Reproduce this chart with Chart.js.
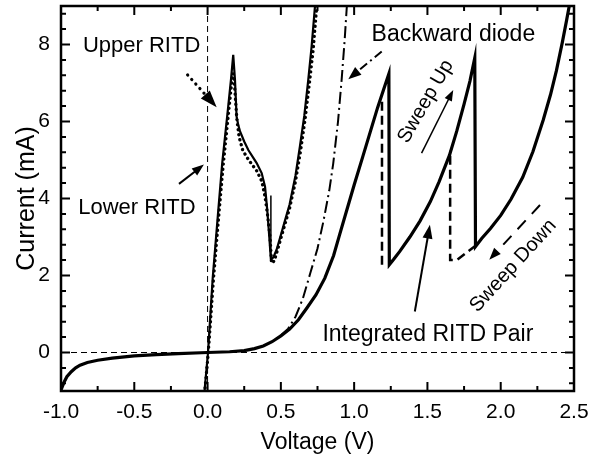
<!DOCTYPE html>
<html><head><meta charset="utf-8">
<script src="https://cdn.jsdelivr.net/npm/chart.js@4/dist/chart.umd.min.js"></script>
<style>html,body{margin:0;padding:0;background:#fff}</style>
</head><body>
<canvas id="c" width="602" height="459"></canvas>
<script>
// ---- axis ticks ----
const xTickValues = [-1.0, -0.5, 0.0, 0.5, 1.0, 1.5, 2.0, 2.5];
const xTickLabels = ['-1.0', '-0.5', '0.0', '0.5', '1.0', '1.5', '2.0', '2.5'];
const yTickValues = [0, 2, 4, 6, 8];
const yTickLabels = ['0', '2', '4', '6', '8'];

// ---- Integrated RITD pair (sweep up, thick solid) ----
const integratedV = [-1.00, -0.98, -0.96, -0.93, -0.90, -0.87, -0.82, -0.75, -0.65, -0.50, -0.35, -0.20, 0.00, 0.15, 0.25, 0.32, 0.38, 0.44, 0.50, 0.56, 0.62, 0.68, 0.74, 0.80, 0.86, 0.90, 0.95, 1.00, 1.06, 1.11, 1.16, 1.20, 1.237, 1.240, 1.27, 1.31, 1.38, 1.45, 1.52, 1.58, 1.65, 1.70, 1.75, 1.79, 1.823, 1.828, 1.87, 1.93, 2.00, 2.07, 2.15, 2.22, 2.29, 2.34, 2.38, 2.42, 2.45, 2.47];
const integratedI = [-0.97, -0.78, -0.63, -0.50, -0.40, -0.33, -0.26, -0.20, -0.145, -0.09, -0.055, -0.03, 0.00, 0.02, 0.05, 0.10, 0.17, 0.28, 0.43, 0.61, 0.85, 1.17, 1.50, 1.93, 2.52, 3.05, 3.70, 4.35, 5.10, 5.73, 6.36, 6.82, 7.24, 2.28, 2.42, 2.62, 3.00, 3.42, 3.92, 4.44, 5.12, 5.75, 6.45, 7.05, 7.65, 2.75, 2.96, 3.22, 3.56, 3.98, 4.55, 5.22, 6.04, 6.70, 7.32, 8.05, 8.64, 9.05];

// ---- Integrated RITD pair, sweep down branches (dashed) ----
const sweepDownAV = [1.19, 1.19];
const sweepDownAI = [2.28, 6.60];
const sweepDownBV = [1.83, 1.70, 1.655, 1.655];
const sweepDownBI = [2.78, 2.40, 2.40, 5.25];

// ---- Lower RITD (solid) ----
const lowerV = [-0.022, 0.003, 0.035, 0.070, 0.100, 0.141, 0.160, 0.175, 0.187, 0.198, 0.210, 0.221, 0.250, 0.278, 0.310, 0.335, 0.369, 0.392, 0.407, 0.421, 0.432, 0.450, 0.471, 0.50, 0.53, 0.56, 0.60, 0.63, 0.66, 0.687, 0.71, 0.733, 0.74];
const lowerI = [-1.05, 0.00, 1.93, 3.55, 4.92, 6.39, 7.10, 7.73, 7.08, 6.13, 5.90, 5.75, 5.48, 5.26, 5.07, 4.92, 4.66, 4.31, 3.71, 3.01, 2.41, 2.48, 2.67, 3.05, 3.45, 3.85, 4.60, 5.35, 6.15, 7.08, 7.95, 9.00, 9.30];
const lowerJumpV = [0.432, 0.432];
const lowerJumpI = [4.08, 2.41];

// ---- Upper RITD (dotted) ----
const upperV = [-0.020, 0.005, 0.040, 0.075, 0.105, 0.145, 0.163, 0.172, 0.182, 0.190, 0.200, 0.215, 0.240, 0.280, 0.335, 0.370, 0.392, 0.410, 0.426, 0.437, 0.455, 0.480, 0.510, 0.560, 0.600, 0.635, 0.665, 0.695, 0.720, 0.745, 0.750];
const upperI = [-1.05, 0.00, 1.90, 3.50, 4.80, 6.30, 6.95, 7.25, 7.05, 6.60, 6.05, 5.60, 5.25, 5.00, 4.72, 4.45, 4.05, 3.55, 3.00, 2.32, 2.38, 2.70, 3.10, 3.75, 4.45, 5.25, 6.05, 7.00, 7.85, 9.00, 9.30];

// ---- Backward diode (dash-dot) ----
const backwardV = [0.50, 0.55, 0.60, 0.65, 0.70, 0.75, 0.79, 0.83, 0.857, 0.89, 0.915, 0.935, 0.952];
const backwardI = [0.45, 0.62, 0.93, 1.40, 2.05, 2.70, 3.40, 4.20, 4.90, 6.00, 7.10, 8.10, 9.10];

// ---- annotation labels (data coordinates) ----
const labelTexts = ['Upper RITD', 'Lower RITD', 'Backward diode', 'Sweep Up', 'Sweep Down', 'Integrated RITD Pair'];
const labelV = [-0.45, -0.482, 1.677, 1.488, 2.085, 1.503];
const labelI = [7.97, 3.75, 8.25, 6.52, 2.25, 0.46];
const labelAngle = [0, 0, 0, -60, -47.5, 0];
const labelSize = [22, 22, 23, 20, 20, 23];

// ---- annotation arrows (data coordinates, from -> to) ----
const arrowFromV = [-0.136, -0.195, 1.188, 1.460, 2.268, 1.414];
const arrowFromI = [7.21, 4.38, 7.82, 5.18, 3.83, 1.065];
const arrowToV = [0.062, -0.025, 0.960, 1.676, 1.922, 1.517];
const arrowToI = [6.37, 4.88, 7.10, 6.82, 2.41, 3.32];

const FONT = '"Liberation Sans", Arial, Helvetica, sans-serif';

function pts(xs, ys) { return xs.map((x, i) => ({ x: x, y: ys[i] })); }

const ds = (label, xs, ys, w, dash, cap) => ({
  label: label, data: pts(xs, ys), showLine: true, borderColor: '#000', backgroundColor: '#000',
  borderWidth: w, borderDash: dash || [], borderCapStyle: cap || 'butt', borderJoinStyle: 'miter',
  pointRadius: 0, tension: 0, fill: false, clip: 0
});

const arrowStyles = [
  { w: 3.2, dash: [0.1, 6], cap: 'round', head: 17, hw: 6 },
  { w: 2, dash: [], cap: 'butt', head: 12, hw: 4.5 },
  { w: 2, dash: [9, 4, 2, 4], cap: 'butt', head: 13, hw: 5 },
  { w: 1.5, dash: [], cap: 'butt', head: 11, hw: 4 },
  { w: 2, dash: [12, 9], cap: 'butt', head: 12, hw: 4.5 },
  { w: 2, dash: [], cap: 'butt', head: 14, hw: 5 }
];

const decor = {
  id: 'decor',
  beforeDatasetsDraw(chart) {
    const { ctx, chartArea: a, scales: { x, y } } = chart;
    ctx.save();
    ctx.strokeStyle = '#000';
    ctx.lineWidth = 1;
    ctx.setLineDash([6, 4]);
    const y0 = y.getPixelForValue(0), x0 = x.getPixelForValue(0);
    ctx.beginPath(); ctx.moveTo(a.left, y0); ctx.lineTo(a.right, y0); ctx.stroke();
    ctx.beginPath(); ctx.moveTo(x0, a.top); ctx.lineTo(x0, a.bottom); ctx.stroke();
    ctx.restore();
  },
  afterDatasetsDraw(chart) {
    const { ctx, chartArea: a, scales: { x, y } } = chart;
    ctx.save();
    // arrows
    for (let i = 0; i < arrowFromV.length; i++) {
      const st = arrowStyles[i];
      const x1 = x.getPixelForValue(arrowFromV[i]), y1 = y.getPixelForValue(arrowFromI[i]);
      const x2 = x.getPixelForValue(arrowToV[i]), y2 = y.getPixelForValue(arrowToI[i]);
      const ang = Math.atan2(y2 - y1, x2 - x1);
      const bx = x2 - st.head * Math.cos(ang), by = y2 - st.head * Math.sin(ang);
      ctx.strokeStyle = '#000'; ctx.fillStyle = '#000';
      ctx.lineWidth = st.w; ctx.lineCap = st.cap; ctx.setLineDash(st.dash);
      ctx.beginPath(); ctx.moveTo(x1, y1); ctx.lineTo(bx + Math.cos(ang) * 2, by + Math.sin(ang) * 2); ctx.stroke();
      ctx.setLineDash([]);
      ctx.beginPath();
      ctx.moveTo(x2, y2);
      ctx.lineTo(bx + st.hw * Math.sin(ang), by - st.hw * Math.cos(ang));
      ctx.lineTo(bx - st.hw * Math.sin(ang), by + st.hw * Math.cos(ang));
      ctx.closePath(); ctx.fill();
    }
    // labels
    ctx.fillStyle = '#000';
    ctx.textAlign = 'center'; ctx.textBaseline = 'middle';
    for (let i = 0; i < labelTexts.length; i++) {
      const px = x.getPixelForValue(labelV[i]), py = y.getPixelForValue(labelI[i]);
      ctx.save();
      ctx.translate(px, py);
      ctx.rotate(labelAngle[i] * Math.PI / 180);
      ctx.font = labelSize[i] + 'px ' + FONT;
      ctx.fillText(labelTexts[i], 0, 0);
      ctx.restore();
    }
    // frame
    ctx.strokeStyle = '#000'; ctx.lineWidth = 2.5; ctx.setLineDash([]); ctx.lineCap = 'butt';
    ctx.strokeRect(a.left, a.top, a.right - a.left, a.bottom - a.top);
    // inward ticks on all four sides
    ctx.lineWidth = 2;
    const majorLen = 9, minorLen = 5;
    for (let k = 0; k <= 14; k++) {
      const v = -1 + k * 0.25;
      const px = x.getPixelForValue(v);
      const L = (k % 2 === 0) ? majorLen : minorLen;
      ctx.beginPath();
      ctx.moveTo(px, a.bottom); ctx.lineTo(px, a.bottom - L);
      ctx.moveTo(px, a.top); ctx.lineTo(px, a.top + L);
      ctx.stroke();
    }
    for (let k = -2; k <= 22; k++) {
      const v = k * 0.4;
      if (v < -1 || v > 9) continue;
      const py = y.getPixelForValue(v);
      const L = (k % 5 === 0) ? majorLen : minorLen;
      ctx.beginPath();
      ctx.moveTo(a.left, py); ctx.lineTo(a.left + L, py);
      ctx.moveTo(a.right, py); ctx.lineTo(a.right - L, py);
      ctx.stroke();
    }
    ctx.restore();
  }
};

new Chart(document.getElementById('c'), {
  type: 'scatter',
  data: {
    datasets: [
      ds('Integrated RITD Pair', integratedV, integratedI, 3.2),
      ds('Sweep down A', sweepDownAV, sweepDownAI, 2.5, [9, 5]),
      ds('Sweep down B', sweepDownBV, sweepDownBI, 2.5, [9, 5]),
      ds('Backward diode', backwardV, backwardI, 2, [12, 4, 2, 4]),
      ds('Upper RITD', upperV, upperI, 3.3, [0.1, 5], 'round'),
      ds('Lower RITD', lowerV, lowerI, 2.2),
      ds('Lower RITD jump', lowerJumpV, lowerJumpI, 1.5)
    ]
  },
  options: {
    responsive: false,
    animation: false,
    devicePixelRatio: 1,
    layout: { padding: { top: 6, right: 28, left: 0, bottom: 0 } },
    plugins: { legend: { display: false }, tooltip: { enabled: false } },
    events: [],
    scales: {
      x: {
        type: 'linear', min: -1, max: 2.5,
        afterBuildTicks: s => { s.ticks = xTickValues.map(v => ({ value: v })); },
        afterFit: s => { s.height = 68; s.paddingLeft = 0; s.paddingRight = 0; },
        ticks: { callback: (v, i) => xTickLabels[i], color: '#000', font: { family: FONT, size: 21 }, padding: 9, maxRotation: 0, autoSkip: false },
        grid: { display: false, drawTicks: false },
        border: { display: false },
        title: { display: true, text: 'Voltage (V)', color: '#000', font: { family: FONT, size: 23 }, padding: { top: 0, bottom: 3 } }
      },
      y: {
        type: 'linear', min: -1, max: 9,
        afterBuildTicks: s => { s.ticks = yTickValues.map(v => ({ value: v })); },
        afterFit: s => { s.width = 61; s.paddingTop = 0; s.paddingBottom = 0; },
        ticks: { callback: (v, i) => yTickLabels[i], color: '#000', font: { family: FONT, size: 21 }, padding: 11, autoSkip: false },
        grid: { display: false, drawTicks: false },
        border: { display: false },
        title: { display: true, text: 'Current (mA)', color: '#000', font: { family: FONT, size: 25 }, padding: { top: 12, bottom: 0 } }
      }
    }
  },
  plugins: [decor]
});
</script>
</body></html>
